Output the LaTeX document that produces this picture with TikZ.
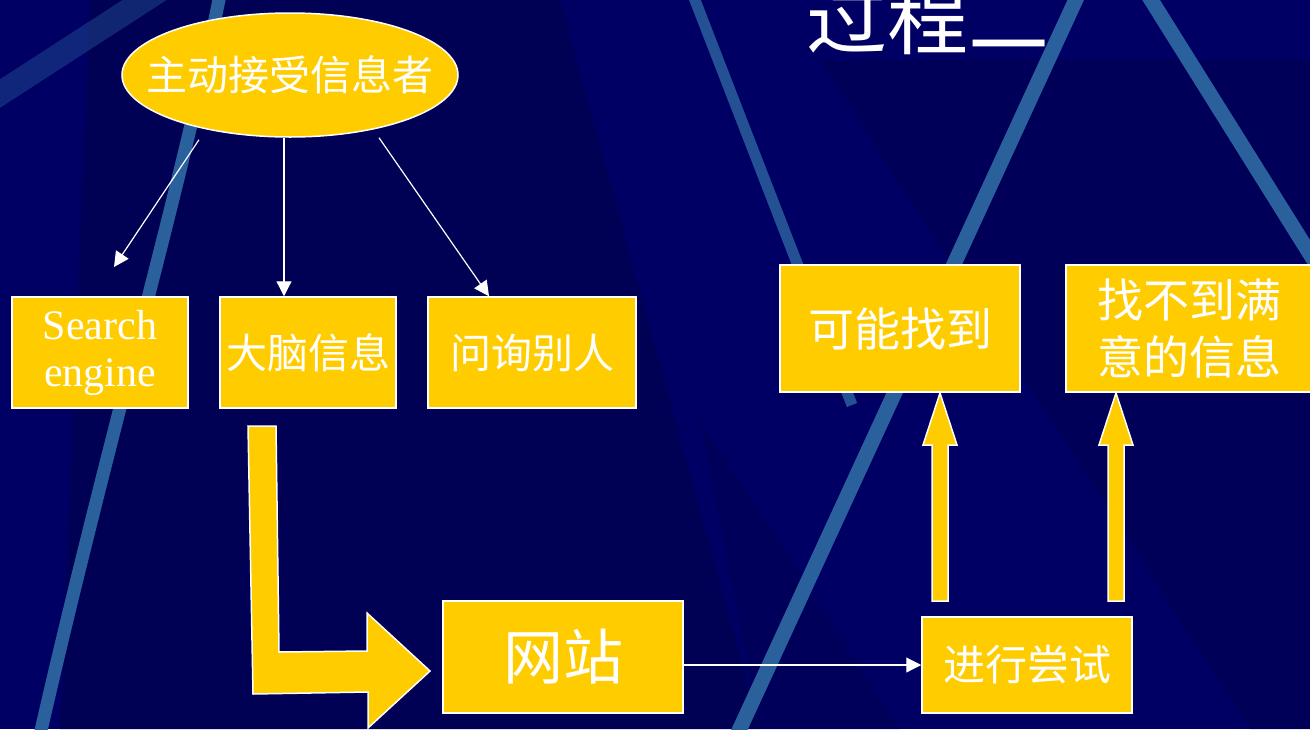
\documentclass[tikz,border=0pt]{standalone}
\usepackage{fontspec}
\setmainfont{Liberation Serif}
\newfontfamily\cjk{Noto Sans CJK SC}
\usetikzlibrary{shapes.geometric,arrows.meta}
\definecolor{bg}{RGB}{0,0,100}
\definecolor{bgdark}{RGB}{0,0,84}
\definecolor{streak}{RGB}{42,96,156}
\definecolor{gold}{RGB}{255,204,0}
\tikzset{
  box/.style={rectangle, draw=white, line width=1.5pt, fill=gold, text=white, inner sep=0pt, align=center},
  thinarr/.style={draw=white, line width=1.2pt, -{Triangle[length=15pt,width=15pt]}},
  blockarr/.style={fill=gold, draw=white, line width=1.5pt, line join=miter},
  streakline/.style={draw=streak, line width=13pt},
}
\begin{document}
\begin{tikzpicture}[x=1pt,y=-1pt]
\useasboundingbox (0,0) rectangle (1310,729);
\clip (0,0) rectangle (1310,729);
% background
\fill[bg] (0,0) rectangle (1310,729);
\fill[bgdark] (90,0) -- (560,0) -- (760,729) -- (60,729) -- cycle;
\fill[bgdark,opacity=0.7] (820,60) -- (1310,60) -- (1310,729) -- (1250,729) -- cycle;
\fill[bgdark,opacity=0.6] (700,420) -- (900,729) -- (760,729) -- cycle;
% streaks
\draw[streak, line width=24pt, opacity=0.4] (-10,100) -- (160,-10);
\draw[streakline] (220,-5) .. controls (178,200) and (105,450) .. (40,735);
\draw[streakline, line width=11pt, opacity=0.85] (693,-5) -- (852,405);
\draw[streakline, line width=15pt] (1078,-5) -- (737,735);
\draw[streakline, line width=15pt] (1148,-5) -- (1315,262);
% title
\node[text=white, font=\cjk\fontsize{81}{81}\selectfont, anchor=base, inner sep=0pt] (title) at (928,48) {过程二};
% ellipse
\node[ellipse, draw=white, line width=1.5pt, fill=gold, text=white, minimum width=336pt, minimum height=124pt, inner sep=0pt, font=\cjk\fontsize{41}{41}\selectfont] (top) at (290,75) {\makebox[0pt]{主动接受信息者}};
% boxes
\node[box, minimum width=176pt, minimum height=111pt, font=\fontsize{42}{48}\selectfont] (se) at (100,352.5) {Search\\[-1pt]engine};
\node[box, minimum width=176pt, minimum height=111pt, font=\cjk\fontsize{41}{41}\selectfont] (dn) at (308,352.5) {大脑信息};
\node[box, minimum width=208pt, minimum height=111pt, font=\cjk\fontsize{41}{41}\selectfont] (wx) at (532,352.5) {问询别人};
\node[box, minimum width=240pt, minimum height=127pt, font=\cjk\fontsize{46}{46}\selectfont] (kn) at (900,328.5) {可能找到};
\node[box, minimum width=246pt, minimum height=127pt, font=\cjk\fontsize{46}{57}\selectfont] (bd) at (1189,328.5) {找不到满\\意的信息};
\node[box, minimum width=240pt, minimum height=112pt, font=\cjk\fontsize{60}{60}\selectfont] (wz) at (563,657) {网站};
\node[box, minimum width=210pt, minimum height=96pt, font=\cjk\fontsize{42}{42}\selectfont] (js) at (1027,665) {进行尝试};
% thin arrows
\coordinate (seend) at (114,267);
\draw[thinarr] ([xshift=-91pt,yshift=-2pt]top.south) -- (seend);
\draw[thinarr] ([xshift=-6pt]top.south) -- ([xshift=-24pt]dn.north);
\draw[thinarr] ([xshift=89pt]top.south) -- ([xshift=-43pt]wx.north);
\draw[thinarr] (wz.east |- 0,665) -- (js.west |- 0,665);
% big L arrow
\draw[blockarr] (248,426) -- (276,426) -- (279,652) -- (367,651) -- (367,613) -- (430,671) -- (368,728) -- (368,692) -- (253,694) -- cycle;
% up block arrows
\draw[blockarr] (932,601) -- (932,445) -- (923,445) -- (940,393) -- (957,445) -- (948,445) -- (948,601) -- cycle;
\draw[blockarr] (1108,601) -- (1108,445) -- (1099,445) -- (1116,393) -- (1133,445) -- (1124,445) -- (1124,601) -- cycle;
\end{tikzpicture}
\end{document}
